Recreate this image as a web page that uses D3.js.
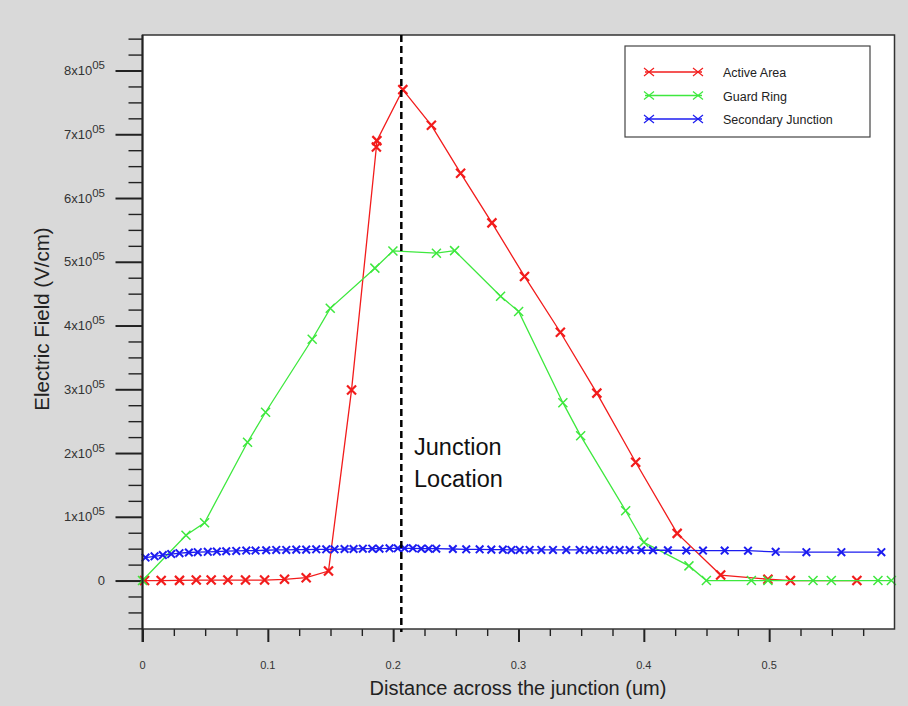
<!DOCTYPE html>
<html><head><meta charset="utf-8">
<script src="https://cdn.jsdelivr.net/npm/d3@7"></script>
<style>body{margin:0;background:#d9d9d9;}svg{display:block}</style>
</head><body><svg id="c" width="908" height="706"></svg>
<script>
// ---- data ----
const activeX = [0.0016,0.0149,0.0295,0.0429,0.0548,0.0681,0.0822,0.0974,0.1133,0.1306,0.1484,0.1668,0.1866,0.1870,0.2077,0.2305,0.2538,0.2788,0.3048,0.3334,0.3625,0.3935,0.4266,0.4613,0.4990,0.5170,0.5700];
const activeY = [0,0,300,800,800,800,800,800,1900,4500,14900,299000,680000,690000,770000,714000,639000,561000,477000,389500,294000,185500,74000,8600,2000,0,0];
const guardX = [0,0.0347,0.0495,0.0838,0.0982,0.1354,0.1498,0.1854,0.1998,0.2345,0.2490,0.2857,0.3001,0.3354,0.3496,0.3855,0.4000,0.4360,0.4499,0.4858,0.4990,0.5350,0.5496,0.5868,0.5975];
const guardY = [0,71000,90700,217000,264000,378500,427000,490000,517000,513500,517500,446000,422000,279000,227000,109500,60000,23000,0,0,0,0,0,0,0];
const secX = [0.0024,0.0096,0.0162,0.0229,0.0295,0.0370,0.0441,0.0521,0.0593,0.0668,0.0748,0.0828,0.0902,0.0987,0.1067,0.1147,0.1227,0.1306,0.1386,0.1466,0.1532,0.1612,0.1684,0.1758,0.1833,0.1891,0.1971,0.2037,0.2091,0.2157,0.2224,0.2283,0.2344,0.2476,0.2583,0.2690,0.2783,0.2875,0.2943,0.3009,0.3089,0.3182,0.3275,0.3381,0.3488,0.3567,0.3647,0.3727,0.3807,0.3887,0.3980,0.4073,0.4192,0.4339,0.4472,0.4645,0.4831,0.5052,0.5297,0.5576,0.5895];
const secY = [36000,38000,40000,41500,43000,44000,44500,45000,45500,46000,46500,47000,47000,47500,48000,48000,48500,48500,49000,49000,49000,49500,49500,50000,50000,50000,50500,50500,50500,50500,50000,50000,50000,49500,49000,49000,48500,48500,48000,48000,48000,48000,48000,48000,48000,47800,47800,47800,47800,47800,47500,47500,47500,47200,47000,47000,46800,45000,44500,44500,44500];
const seriesNames = ["Active Area","Guard Ring","Secondary Junction"];
const seriesColors = ["#f21c1c","#3ee83e","#1c1cf0"];
const xTickLabels = ["0","0.1","0.2","0.3","0.4","0.5"];
const xTickValues = [0,0.1,0.2,0.3,0.4,0.5];
const yTickMantissa = ["1","2","3","4","5","6","7","8"];
const yTickValues = [100000,200000,300000,400000,500000,600000,700000,800000];
const junctionX = 0.2065;

// ---- scales ----
const svg = d3.select("#c");
const x = d3.scaleLinear().domain([0,0.6]).range([142.5,894.5]);
const y = d3.scaleLinear().domain([-76000,855700]).range([629,35]);
const FONT = "'Liberation Sans', Arial, Helvetica, sans-serif";

svg.append("rect").attr("width",908).attr("height",706).attr("fill","#d9d9d9");
svg.append("rect").attr("x",x(0)).attr("y",y(855700)).attr("width",x(0.6)-x(0)).attr("height",y(-76000)-y(855700)).attr("fill","#fff");

// ---- axes ticks ----
const yMinor = d3.range(-75000, 851000, 25000).filter(v => v % 100000 !== 0);
const yAxMinor = d3.axisLeft(y).tickValues(yMinor).tickSize(14).tickFormat("");
const yAxMajor = d3.axisLeft(y).tickValues([0].concat(yTickValues)).tickSize(27).tickFormat("");
[yAxMinor,yAxMajor].forEach((ax,i)=>{
  const g = svg.append("g").attr("transform",`translate(${x(0)},0)`).call(ax);
  g.select(".domain").remove();
  g.selectAll("line").attr("stroke","#222").attr("stroke-width", i ? 2 : 1.4);
});
const xMinor = d3.range(0.025, 0.59, 0.025).filter(v => Math.abs(v*10 - Math.round(v*10)) > 1e-6);
const xAxMinor = d3.axisBottom(x).tickValues(xMinor).tickSize(7).tickFormat("");
const xAxMajor = d3.axisBottom(x).tickValues(xTickValues).tickSize(13).tickFormat("");
[xAxMinor,xAxMajor].forEach((ax,i)=>{
  const g = svg.append("g").attr("transform",`translate(0,${y(-76000)})`).call(ax);
  g.select(".domain").remove();
  g.selectAll("line").attr("stroke","#222").attr("stroke-width", i ? 2 : 1.4);
});

// y labels
const yl = svg.append("g").attr("font-family",FONT).attr("fill","#333");
yl.append("text").attr("x",105).attr("y",y(0)).attr("dy","0.35em").attr("text-anchor","end").attr("font-size",13).text("0");
yTickValues.forEach((v,i)=>{
  const t = yl.append("text").attr("x",105).attr("y",y(v)+4.5).attr("text-anchor","end").attr("font-size",13);
  t.append("tspan").text(yTickMantissa[i]+"x10");
  t.append("tspan").attr("dy",-6).attr("font-size",11.5).text("05");
});
// x labels
svg.append("g").selectAll("text").data(xTickValues).join("text")
  .attr("x",d=>x(d)).attr("y",669).attr("text-anchor","middle")
  .attr("font-family",FONT).attr("font-size",11).attr("fill","#333")
  .text((d,i)=>xTickLabels[i]);

// axis titles
svg.append("text").attr("x",518).attr("y",695).attr("text-anchor","middle")
  .attr("font-family",FONT).attr("font-size",20).attr("fill","#222").text("Distance across the junction (um)");
svg.append("text").attr("transform","translate(49,319) rotate(-90)").attr("text-anchor","middle")
  .attr("font-family",FONT).attr("font-size",20.5).attr("fill","#222").text("Electric Field (V/cm)");

// ---- series ----
const line = d3.line().x(d=>x(d[0])).y(d=>y(d[1]));
const cross = s => `M${-s},${-s}L${s},${s}M${-s},${s}L${s},${-s}`;
const series = [
  {xs:activeX, ys:activeY, c:seriesColors[0], s:4.5, w:2.2, lw:1.3},
  {xs:guardX, ys:guardY, c:seriesColors[1], s:4.5, w:1.5, lw:1.3},
  {xs:secX, ys:secY, c:seriesColors[2], s:3.8, w:2, lw:1.3}
];
series.forEach(se=>{
  const pts = se.xs.map((v,i)=>[v, se.ys[i]]);
  svg.append("path").attr("d",line(pts)).attr("fill","none").attr("stroke",se.c).attr("stroke-width",se.lw);
  svg.append("g").selectAll("path").data(pts).join("path")
    .attr("transform",d=>`translate(${x(d[0])},${y(d[1])})`)
    .attr("d",cross(se.s)).attr("stroke",se.c).attr("stroke-width",se.w).attr("fill","none");
});

// frame
svg.append("rect").attr("x",x(0)).attr("y",y(855700)).attr("width",x(0.6)-x(0)).attr("height",y(-76000)-y(855700))
  .attr("fill","none").attr("stroke","#333").attr("stroke-width",1.5);
svg.append("line").attr("x1",x(0)).attr("x2",x(0)).attr("y1",y(855700)).attr("y2",642).attr("stroke","#222").attr("stroke-width",2);

// junction dashed line
svg.append("line").attr("x1",x(junctionX)).attr("x2",x(junctionX)).attr("y1",y(855700)).attr("y2",632)
  .attr("stroke","#000").attr("stroke-width",2.5).attr("stroke-dasharray","7,4");
const jt = svg.append("text").attr("font-family",FONT).attr("font-size",23.5).attr("fill","#111");
jt.append("tspan").attr("x",414).attr("y",455).text("Junction");
jt.append("tspan").attr("x",414).attr("y",487).text("Location");

// ---- legend ----
const lg = svg.append("g");
lg.append("rect").attr("x",625).attr("y",46).attr("width",245).attr("height",91).attr("fill","#fff").attr("stroke","#444").attr("stroke-width",1.2);
seriesNames.forEach((n,i)=>{
  const yy = 72 + i*23.5;
  lg.append("line").attr("x1",645).attr("x2",702).attr("y1",yy).attr("y2",yy).attr("stroke",seriesColors[i]).attr("stroke-width",1.5);
  [649,698].forEach(cx=>lg.append("path").attr("transform",`translate(${cx},${yy})`).attr("d","M-5,-4L5,4M-5,4L5,-4").attr("stroke",seriesColors[i]).attr("stroke-width",1.2).attr("fill","none"));
  lg.append("text").attr("x",723).attr("y",yy+1).attr("dy","0.35em").attr("font-family",FONT).attr("font-size",12.5).attr("fill","#222").text(n);
});
</script>
</body></html>
